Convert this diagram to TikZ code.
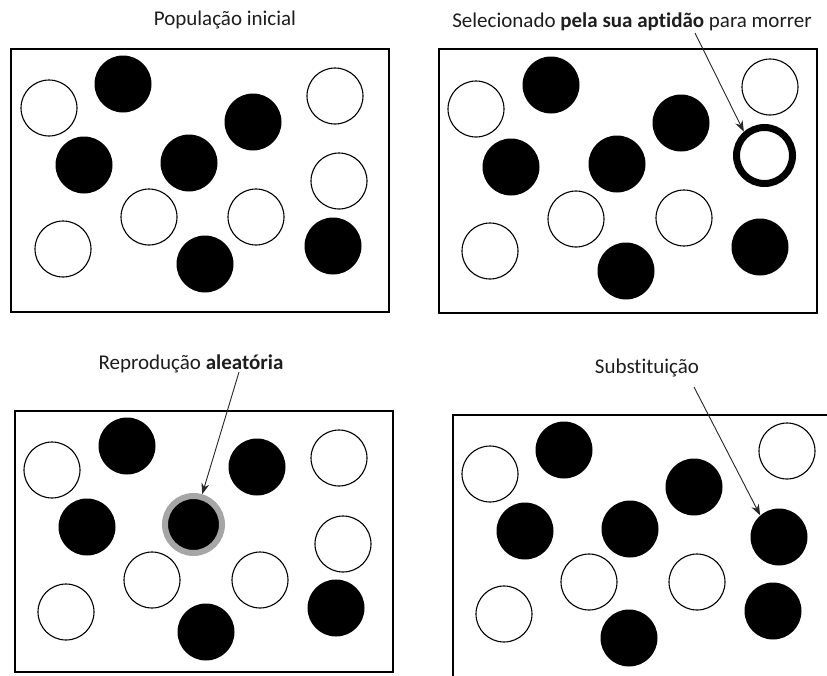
\documentclass[tikz,border=0pt]{standalone}
\usepackage{fontspec}
\setmainfont{Carlito}[Ligatures={NoCommon,NoContextual}]
\usetikzlibrary{arrows.meta}
\begin{document}
\begin{tikzpicture}[x=1pt,y=-1pt,
  wc/.style={circle,draw=black,line width=1.1pt,fill=white,minimum size=56pt,inner sep=0pt},
  bc/.style={circle,fill=black,minimum size=57pt,inner sep=0pt},
  boldring/.style={circle,draw=black,line width=7pt,fill=white,minimum size=56pt,inner sep=0pt},
  grayring/.style={circle,draw=ringgray,line width=6pt,fill=black,minimum size=57pt,inner sep=0pt},
  frame/.style={draw=black,line width=2.4pt},
  lbl/.style={font=\fontsize{21}{25}\selectfont,text=txt,inner sep=0pt,anchor=base},
  arr/.style={-{Stealth[length=11pt,width=8pt]},line width=0.9pt,draw=black!85}]
\definecolor{ringgray}{HTML}{A6A6A6}
\definecolor{txt}{HTML}{1E1E1E}
\useasboundingbox (0,0) rectangle (827,675);
\clip (0,0) rectangle (827,675);
\fill[white] (0,0) rectangle (827,675);

% ---------- Panel 1 ----------
\draw[frame] (11,49) rectangle (389,312);
\node[lbl] (t1) at (225,25) {População inicial};
\node[wc] (p1a) at (49,108) {};
\node[bc] (p1b) at (123,84) {};
\node[bc] (p1c) at (253,122) {};
\node[wc] (p1d) at (335,96) {};
\node[bc] (p1e) at (84,165) {};
\node[bc] (p1f) at (189,163) {};
\node[wc] (p1g) at (339,181) {};
\node[wc] (p1h) at (149,217) {};
\node[wc] (p1i) at (256,217) {};
\node[wc] (p1j) at (63,249) {};
\node[bc] (p1k) at (205,264) {};
\node[bc] (p1l) at (333,246) {};

% ---------- Panel 2 ----------
\draw[frame] (439,49) rectangle (817,313);
\node[lbl] (t2) at (632,27) {Selecionado \textbf{pela sua aptidão} para morrer};
\node[wc] (p2a) at (476,109) {};
\node[bc] (p2b) at (551,85) {};
\node[bc] (p2c) at (681,123) {};
\node[wc] (p2d) at (770,87) {};
\node[boldring] (p2sel) at (764.5,155.5) {};
\node[bc] (p2e) at (511,167) {};
\node[bc] (p2f) at (617,164) {};
\node[wc] (p2g) at (576,219) {};
\node[wc] (p2h) at (684,218) {};
\node[wc] (p2i) at (490,251) {};
\node[bc] (p2j) at (626,271) {};
\node[bc] (p2k) at (760,247) {};
\coordinate (s2) at (695,33);
\draw[arr] (s2) -- (p2sel.131);

% ---------- Panel 3 ----------
\draw[frame] (15,411) rectangle (393,672);
\node[lbl] (t3) at (191,369) {Reprodução \textbf{aleatória}};
\node[wc] (p3a) at (52,470) {};
\node[bc] (p3b) at (127,446) {};
\node[bc] (p3c) at (257,467) {};
\node[wc] (p3d) at (339,458) {};
\node[bc] (p3e) at (87,527) {};
\node[grayring] (p3sel) at (193.5,524.5) {};
\node[wc] (p3f) at (343,544) {};
\node[wc] (p3g) at (152,580) {};
\node[wc] (p3h) at (260,580) {};
\node[wc] (p3i) at (66,612) {};
\node[bc] (p3j) at (206,632) {};
\node[bc] (p3k) at (336,608) {};
\coordinate (s3) at (239,372);
\draw[arr] (s3) -- (p3sel.74);

% ---------- Panel 4 ----------
\draw[frame] (453,415) rectangle (840,690);
\node[lbl] (t4) at (647,373) {Substituição};
\node[wc] (p4a) at (490,474) {};
\node[bc] (p4b) at (564,450) {};
\node[bc] (p4c) at (694,487) {};
\node[wc] (p4d) at (787,451) {};
\node[bc] (p4e) at (525,531) {};
\node[bc] (p4f) at (630,529) {};
\node[bc] (p4new) at (779,537) {};
\node[wc] (p4g) at (589,582) {};
\node[wc] (p4h) at (697,582) {};
\node[wc] (p4i) at (504,614) {};
\node[bc] (p4j) at (629,638) {};
\node[bc] (p4k) at (773,611) {};
\coordinate (s4) at (694,387);
\draw[arr] (s4) -- (p4new.131);
\end{tikzpicture}
\end{document}
